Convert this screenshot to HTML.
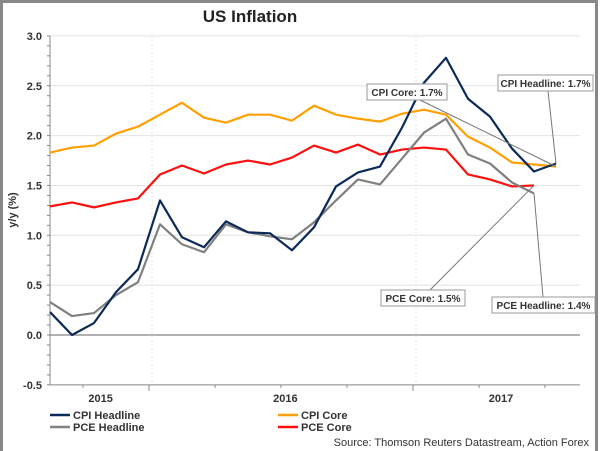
<!DOCTYPE html>
<html><head><meta charset="utf-8"><style>
body{margin:0;background:#fff;}
svg{display:block;font-family:"Liberation Sans",Arial,sans-serif;}
</style></head><body>
<svg id="c" width="600" height="451">
<rect x="1.5" y="1.5" width="595" height="460" fill="none" stroke="#888" stroke-width="3"/>
<text x="250" y="22" text-anchor="middle" font-size="17" font-weight="bold" fill="#222">US Inflation</text>
<text transform="translate(16,210) rotate(-90)" text-anchor="middle" font-size="11" font-weight="bold" fill="#333">y/y (%)</text>
<g id="grid"></g><g id="axes"></g><g id="series"></g>
<g id="notes" font-size="10" font-weight="bold" fill="#333"></g>
<g font-size="11" font-weight="bold" fill="#333">
<line x1="50" y1="415" x2="70" y2="415" stroke="#0b2a5a" stroke-width="2.5"/>
<text x="73" y="419">CPI Headline</text>
<line x1="50" y1="427" x2="70" y2="427" stroke="#808080" stroke-width="2.5"/>
<text x="73" y="431">PCE Headline</text>
<line x1="278" y1="415" x2="298" y2="415" stroke="#ffa000" stroke-width="2.5"/>
<text x="301" y="419">CPI Core</text>
<line x1="278" y1="427" x2="298" y2="427" stroke="#ff1010" stroke-width="2.5"/>
<text x="301" y="431">PCE Core</text>
</g>
<text x="589" y="446" text-anchor="end" font-size="11" fill="#333">Source: Thomson Reuters Datastream, Action Forex</text>
</svg>
<script>
const cpiHeadline=[0.23,0,0.12,0.43,0.66,1.35,0.98,0.88,1.14,1.03,1.02,0.85,1.08,1.49,1.63,1.69,2.08,2.53,2.78,2.37,2.19,1.87,1.64,1.72];
const pceHeadline=[0.33,0.19,0.22,0.4,0.53,1.11,0.91,0.83,1.11,1.03,0.99,0.96,1.13,1.35,1.56,1.51,1.77,2.03,2.17,1.81,1.72,1.53,1.42];
const cpiCore=[1.83,1.88,1.9,2.02,2.09,2.21,2.33,2.18,2.13,2.21,2.21,2.15,2.3,2.21,2.17,2.14,2.22,2.26,2.21,1.99,1.88,1.73,1.71,1.69];
const pceCore=[1.29,1.33,1.28,1.33,1.37,1.61,1.7,1.62,1.71,1.75,1.71,1.78,1.9,1.83,1.91,1.81,1.86,1.88,1.86,1.61,1.56,1.49,1.5];
const yTicks=[3.0,2.5,2.0,1.5,1.0,0.5,0.0,-0.5];
const yearLabels=["2015","2016","2017"];
const yearIdx=[2.3,10.7,20.5];
const NS='http://www.w3.org/2000/svg';
const X0=50,DX=22,Y0=335,SY=99.7,XR=580;
const xs=i=>X0+DX*i, ys=v=>Y0-v*SY;
function mk(t,a,p){const e=document.createElementNS(NS,t);for(const k in a)e.setAttribute(k,a[k]);document.getElementById(p).appendChild(e);return e;}
yTicks.forEach(v=>{
 const g=mk('line',{x1:X0,x2:XR,y1:ys(v),y2:ys(v),stroke:v===0?'#999':'#e2e2e2','stroke-width':v===0?1.5:1},'grid');
 
 
 const t=mk('text',{x:42,y:ys(v)+4,'text-anchor':'end','font-size':11,'font-weight':'bold',fill:'#333'},'axes');
 t.textContent=v.toFixed(1);
 
 
});
for(let v=-0.5;v<=3.0001;v+=0.1){mk('line',{x1:X0-3,x2:X0,y1:ys(v),y2:ys(v),stroke:'#888'},'axes');}
[152,416].forEach(x=>{const l=mk('line',{x1:x,x2:x,y1:ys(3),y2:ys(-0.5),stroke:'#e2e2e2','stroke-dasharray':'2,2'},'grid');
 
 });
mk('line',{x1:X0,x2:X0,y1:ys(3),y2:ys(-0.5),stroke:'#888'},'axes');
mk('line',{x1:X0,x2:XR,y1:ys(-0.5),y2:ys(-0.5),stroke:'#888'},'axes');
for(let k=0;k<8;k++){const x=xs(1.5+3*k);mk('line',{x1:x,x2:x,y1:ys(-0.5),y2:ys(-0.5)+(k%4===1?6:3),stroke:'#888'},'axes');}
yearLabels.forEach((s,i)=>{const t=mk('text',{x:xs(yearIdx[i]),y:402,'text-anchor':'middle','font-size':11,'font-weight':'bold',fill:'#333'},'axes');t.textContent=s;
 
 });
function line(d,c,n){const p=mk('polyline',{points:d.map((v,i)=>xs(i)+','+ys(v)).join(' '),fill:'none',stroke:c,'stroke-width':2.2,'stroke-linejoin':'round'},'series');
 
 }
line(cpiCore,'#ffa000','cpi-core-line');
line(pceCore,'#ff1010','pce-core-line');
line(pceHeadline,'#808080','pce-headline-line');
line(cpiHeadline,'#0b2a5a','cpi-headline-line');
function note(txt,bx,by,w,ax,ay,i,v,n){
 mk('line',{x1:ax,y1:ay,x2:xs(i),y2:ys(v),stroke:'#777'},'notes');
 const r=mk('rect',{x:bx,y:by,width:w,height:16,fill:'#fff',stroke:'#999'},'notes');
 
 
 const t=mk('text',{x:bx+w/2,y:by+12,'text-anchor':'middle'},'notes');t.textContent=txt;
 
 
}
note('CPI Core: 1.7%',367,84,80,420,100,cpiCore.length-1,cpiCore[cpiCore.length-1],'cpi-core-callout');
note('CPI Headline: 1.7%',498,75,95,548,91,cpiHeadline.length-1,cpiHeadline[cpiHeadline.length-1],'cpi-headline-callout');
note('PCE Core: 1.5%',381,290,84,430,290,pceCore.length-1,pceCore[pceCore.length-1],'pce-core-callout');
note('PCE Headline: 1.4%',492,297,103,543,297,pceHeadline.length-1,pceHeadline[pceHeadline.length-1],'pce-headline-callout');
</script>
</body></html>
